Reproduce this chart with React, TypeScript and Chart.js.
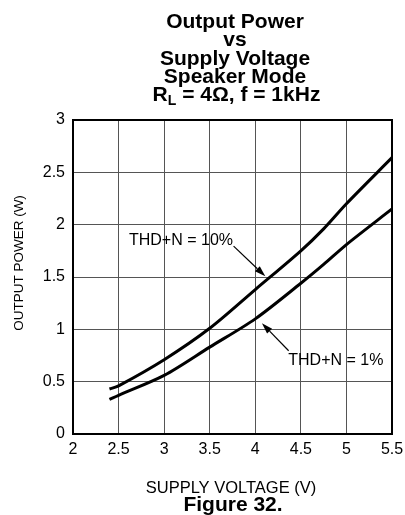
import { useEffect, useRef } from "react";
import { Chart, registerables } from "chart.js";

Chart.register(...registerables);

// ---- data ----
const supplyVoltage = [2.4, 2.5, 3.0, 3.5, 4.0, 4.5, 4.75, 5.0, 5.5];
const powerThd10 = [0.43, 0.46, 0.71, 1.01, 1.38, 1.75, 1.96, 2.2, 2.64];
const powerThd1 = [0.33, 0.37, 0.56, 0.83, 1.1, 1.44, 1.62, 1.81, 2.15];

const xMin = 2;
const xMax = 5.5;
const xStep = 0.5;
const yMin = 0;
const yMax = 3;
const yStep = 0.5;

const titleLines = ["Output Power", "vs", "Supply Voltage", "Speaker Mode"];
const xAxisTitle = "SUPPLY VOLTAGE (V)";
const yAxisTitle = "OUTPUT POWER (W)";
const figureCaption = "Figure 32.";

// annotation labels: text, text anchor (data), arrow start (data), arrow end (data)
const annText = ["THD+N = 10%", "THD+N = 1%"];
const annTextAt = [
  [2.614, 1.806],
  [4.362, 0.659],
];
const annArrowFrom = [
  [3.762, 1.795],
  [4.366, 0.795],
];
const annArrowTo = [
  [4.11, 1.506],
  [4.073, 1.058],
];

const FONT = "'Liberation Sans', Arial, Helvetica, sans-serif";

function arrow(ctx: CanvasRenderingContext2D, x1: number, y1: number, x2: number, y2: number) {
  const ang = Math.atan2(y2 - y1, x2 - x1);
  const len = 11;
  const half = 3.5;
  const bx = x2 - Math.cos(ang) * len;
  const by = y2 - Math.sin(ang) * len;
  ctx.beginPath();
  ctx.moveTo(x1, y1);
  ctx.lineTo(bx, by);
  ctx.lineWidth = 1.2;
  ctx.stroke();
  ctx.beginPath();
  ctx.moveTo(x2, y2);
  ctx.lineTo(bx - Math.sin(ang) * half, by + Math.cos(ang) * half);
  ctx.lineTo(bx + Math.sin(ang) * half, by - Math.cos(ang) * half);
  ctx.closePath();
  ctx.fill();
}

const overlay = {
  id: "overlay",
  afterDraw(chart: any) {
    const { ctx, chartArea: a, scales } = chart;
    const xs = scales.x;
    const ys = scales.y;
    ctx.save();
    ctx.fillStyle = "#000";
    ctx.strokeStyle = "#000";

    // plot frame
    ctx.lineWidth = 2;
    ctx.strokeRect(a.left, a.top, a.right - a.left, a.bottom - a.top);

    // annotations
    ctx.font = `16px ${FONT}`;
    ctx.textAlign = "left";
    ctx.textBaseline = "alphabetic";
    for (let i = 0; i < annText.length; i++) {
      ctx.fillText(annText[i], xs.getPixelForValue(annTextAt[i][0]), ys.getPixelForValue(annTextAt[i][1]));
      arrow(
        ctx,
        xs.getPixelForValue(annArrowFrom[i][0]),
        ys.getPixelForValue(annArrowFrom[i][1]),
        xs.getPixelForValue(annArrowTo[i][0]),
        ys.getPixelForValue(annArrowTo[i][1])
      );
    }

    // title
    const cx = 235;
    ctx.textAlign = "center";
    const bigF = `bold 21px ${FONT}`;
    const subF = `bold 14px ${FONT}`;
    ctx.font = bigF;
    const base0 = 28;
    const step = 18.3;
    titleLines.forEach((t, i) => ctx.fillText(t, cx, base0 + i * step));
    // last title line with subscript
    const yLast = base0 + titleLines.length * step;
    const partR = "R";
    const partSub = "L";
    const partRest = " = 4\u03A9, f = 1kHz";
    ctx.font = bigF;
    const wR = ctx.measureText(partR).width;
    const wRest = ctx.measureText(partRest).width;
    ctx.font = subF;
    const wSub = ctx.measureText(partSub).width;
    const total = wR + wSub + wRest;
    let x0 = 236.5 - total / 2;
    ctx.textAlign = "left";
    ctx.font = bigF;
    ctx.fillText(partR, x0, yLast);
    x0 += wR;
    ctx.font = subF;
    ctx.fillText(partSub, x0, yLast + 4);
    x0 += wSub;
    ctx.font = bigF;
    ctx.fillText(partRest, x0, yLast);

    // axis titles
    ctx.textAlign = "center";
    ctx.font = `16.5px ${FONT}`;
    ctx.fillText(xAxisTitle, 231, 493);
    ctx.font = `bold 21px ${FONT}`;
    ctx.fillText(figureCaption, 233, 511);

    ctx.save();
    ctx.translate(22.5, 263);
    ctx.rotate(-Math.PI / 2);
    ctx.font = `13.5px ${FONT}`;
    ctx.fillText(yAxisTitle, 0, 0);
    ctx.restore();

    ctx.restore();
  },
};

const fmt = (v: any) => String(Math.round(Number(v) * 10) / 10);

export default function App() {
  const ref = useRef<HTMLCanvasElement | null>(null);

  useEffect(() => {
    document.body.style.margin = "0";
    const canvas = ref.current!;
    const chart = new Chart(canvas, {
      type: "line",
      data: {
        datasets: [
          {
            label: "THD+N = 10%",
            data: supplyVoltage.map((v, i) => ({ x: v, y: powerThd10[i] })),
            borderColor: "#000",
            borderWidth: 3,
            pointRadius: 0,
            tension: 0.3,
            fill: false,
          },
          {
            label: "THD+N = 1%",
            data: supplyVoltage.map((v, i) => ({ x: v, y: powerThd1[i] })),
            borderColor: "#000",
            borderWidth: 3,
            pointRadius: 0,
            tension: 0.3,
            fill: false,
          },
        ],
      },
      options: {
        animation: false,
        responsive: false,
        maintainAspectRatio: false,
        layout: { padding: { top: 120, right: 13, left: 0, bottom: 0 } },
        plugins: {
          legend: { display: false },
          tooltip: { enabled: false },
          title: { display: false },
        },
        scales: {
          x: {
            type: "linear",
            min: xMin,
            max: xMax,
            ticks: {
              stepSize: xStep,
              color: "#000",
              font: { family: FONT, size: 16 },
              padding: 6,
              maxRotation: 0,
              autoSkip: false,
              callback: fmt,
            },
            grid: { color: "#555", lineWidth: 1, drawTicks: false },
            border: { display: false },
            afterFit: (s: any) => {
              s.height = 81;
              s.paddingLeft = 0;
              s.paddingRight = 0;
            },
          },
          y: {
            type: "linear",
            min: yMin,
            max: yMax,
            ticks: {
              stepSize: yStep,
              color: "#000",
              font: { family: FONT, size: 16 },
              padding: 8,
              autoSkip: false,
              callback: fmt,
            },
            grid: { color: "#555", lineWidth: 1, drawTicks: false },
            border: { display: false },
            afterFit: (s: any) => {
              s.width = 73;
              s.paddingTop = 0;
              s.paddingBottom = 0;
            },
          },
        },
      },
      plugins: [overlay],
    });
    return () => chart.destroy();
  }, []);

  return (
    <div style={{ width: 405, height: 515 }}>
      <canvas ref={ref} width={405} height={515} style={{ width: 405, height: 515, display: "block" }} />
    </div>
  );
}
